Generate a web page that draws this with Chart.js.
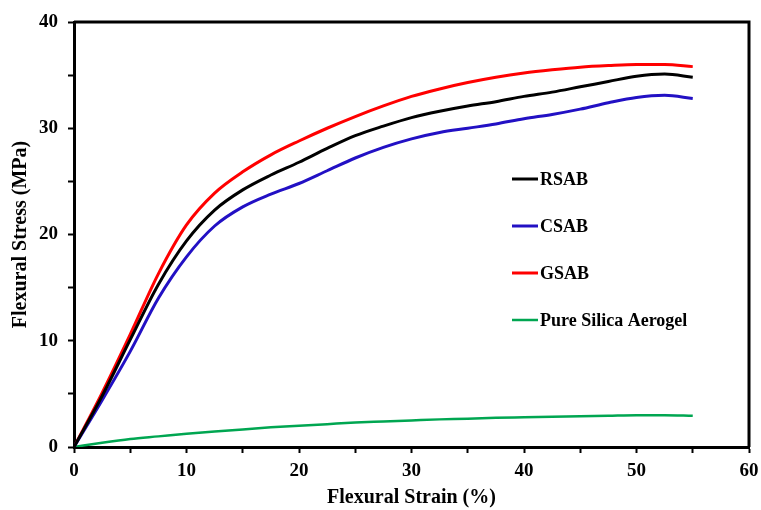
<!DOCTYPE html>
<html>
<head>
<meta charset="utf-8">
<script src="https://cdn.jsdelivr.net/npm/chart.js@4.4.1/dist/chart.umd.min.js"></script>
<style>
  html, body { margin: 0; padding: 0; background: #fff; }
  #wrap { width: 761px; height: 510px; }
</style>
</head>
<body>
<div id="wrap"><canvas id="chart" width="761" height="510"></canvas></div>
<script>
// strain (%) sample points and flexural stress (MPa) per sample
const strain = [0, 2.5, 5, 7.5, 10, 12.5, 15, 17.5, 20, 22.5, 25, 27.5, 30, 32.5, 35, 37.5, 40, 42.5, 45, 47.5, 50, 52.5, 55];
const rsab   = [0, 4.8, 10.1, 15.3, 19.4, 22.3, 24.2, 25.6, 26.8, 28.1, 29.3, 30.2, 31.0, 31.6, 32.1, 32.5, 33.0, 33.4, 33.9, 34.4, 34.9, 35.1, 34.8];
const csab   = [0, 4.4, 9.0, 14.0, 17.9, 20.8, 22.6, 23.8, 24.8, 26.0, 27.2, 28.2, 29.0, 29.6, 30.0, 30.4, 30.9, 31.3, 31.8, 32.4, 32.9, 33.1, 32.8];
const gsab   = [0, 5.1, 10.6, 16.3, 20.9, 23.9, 25.9, 27.5, 28.8, 30.0, 31.1, 32.1, 33.0, 33.7, 34.3, 34.8, 35.2, 35.5, 35.75, 35.9, 36.0, 36.0, 35.8];
const silica = [0, 0.4, 0.75, 1.0, 1.25, 1.45, 1.65, 1.85, 2.0, 2.15, 2.3, 2.4, 2.5, 2.6, 2.65, 2.75, 2.8, 2.85, 2.9, 2.95, 3.0, 3.0, 2.95];

const xTicks = { min: 0, max: 60, step: 5 };
const yTicks = { min: 0, max: 40, step: 5 };

const FONT = "'Liberation Serif', 'Times New Roman', serif";

function pts(ys) {
  return strain.map((x, i) => ({ x: x, y: ys[i] }));
}

function series(label, ys, color, width) {
  return {
    label: label,
    data: pts(ys),
    borderColor: color,
    backgroundColor: color,
    borderWidth: width,
    pointRadius: 0,
    cubicInterpolationMode: "monotone",
    fill: false
  };
}

// box around the plot + key inside it
const frameAndKey = {
  id: "frameAndKey",
  afterDraw(chart) {
    const { ctx, chartArea: a } = chart;
    ctx.save();
    ctx.strokeStyle = "#000";
    ctx.lineWidth = 3;
    ctx.beginPath();
    ctx.moveTo(a.left, a.top);
    ctx.lineTo(a.right, a.top);
    ctx.lineTo(a.right, a.bottom);
    ctx.stroke();

    const keyX = 512, keyY = 179, gap = 47;
    ctx.font = "bold 18px " + FONT;
    ctx.textBaseline = "middle";
    ctx.fillStyle = "#000";
    chart.data.datasets.forEach((ds, i) => {
      const y = keyY + i * gap;
      ctx.strokeStyle = ds.borderColor;
      ctx.lineWidth = ds.borderWidth;
      ctx.beginPath();
      ctx.moveTo(keyX, y);
      ctx.lineTo(keyX + 26, y);
      ctx.stroke();
      ctx.fillText(ds.label, keyX + 28, y + 1);
    });
    ctx.restore();
  }
};

const axisCommon = {
  type: "linear",
  grid: {
    drawOnChartArea: false,
    drawTicks: true,
    tickLength: 6,
    tickColor: "#000",
    tickWidth: 2
  },
  border: { display: true, color: "#000", width: 3 }
};

new Chart(document.getElementById("chart").getContext("2d"), {
  type: "line",
  data: {
    datasets: [
      series("RSAB", rsab, "#000000", 3),
      series("CSAB", csab, "#2210c4", 3),
      series("GSAB", gsab, "#ff0000", 3),
      series("Pure Silica Aerogel", silica, "#00a651", 2.5)
    ]
  },
  options: {
    responsive: false,
    animation: false,
    layout: { padding: { left: 0, top: 22, right: 12, bottom: 0 } },
    plugins: { legend: { display: false }, tooltip: { enabled: false } },
    scales: {
      x: {
        ...axisCommon,
        min: xTicks.min,
        max: xTicks.max,
        ticks: {
          stepSize: xTicks.step,
          color: "#000",
          font: { family: FONT, size: 19, weight: "bold" },
          padding: 7,
          maxRotation: 0,
          callback: v => (v % 10 === 0 ? v : "")
        },
        title: {
          display: true,
          text: "Flexural Strain (%)",
          color: "#000",
          font: { family: FONT, size: 20, weight: "bold" },
          padding: { top: 0, bottom: 0 }
        },
        afterFit(scale) {
          scale.height = 63;
          scale.paddingLeft = 0;
          scale.paddingRight = 0;
        }
      },
      y: {
        ...axisCommon,
        min: yTicks.min,
        max: yTicks.max,
        ticks: {
          stepSize: yTicks.step,
          color: "#000",
          font: { family: FONT, size: 19, weight: "bold" },
          padding: 10,
          callback: v => (v % 10 === 0 ? v : "")
        },
        title: {
          display: true,
          text: "Flexural Stress (MPa)",
          color: "#000",
          font: { family: FONT, size: 20, weight: "bold" },
          padding: { top: 9, bottom: 0 }
        },
        afterFit(scale) {
          scale.width = 74;
          scale.paddingTop = 0;
          scale.paddingBottom = 0;
        }
      }
    }
  },
  plugins: [frameAndKey]
});
</script>
</body>
</html>
